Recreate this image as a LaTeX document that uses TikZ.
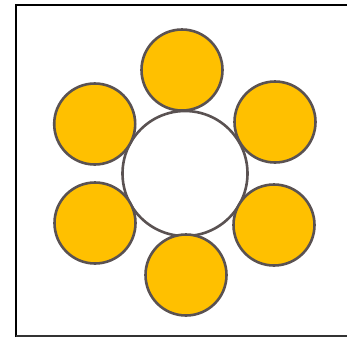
\documentclass[tikz,border=0pt]{standalone}
\definecolor{petal}{HTML}{FFC000}
\definecolor{rim}{HTML}{5A5252}
\begin{document}
\begin{tikzpicture}[x=1pt,y=-1pt,
  petalnode/.style={circle,draw=rim,fill=petal,line width=2.6pt,inner sep=0pt,minimum size=81pt},
  hubnode/.style={circle,draw=rim,fill=white,line width=2.6pt,inner sep=0pt,minimum size=125pt}]
\useasboundingbox (0,0) rectangle (347,338);
\fill[white] (0,0) rectangle (347,338);
\draw[line width=2.6pt] (16,337) -- (16,5) -- (349,5);
\draw[line width=1.8pt,black!80] (16,336) -- (349,336);
\node[hubnode] (hub) at (185,173.5) {};
\node[petalnode] (p1) at (182,70) {};
\node[petalnode] (p2) at (275,122) {};
\node[petalnode] (p3) at (274,225) {};
\node[petalnode] (p4) at (186,275) {};
\node[petalnode] (p5) at (95,223) {};
\node[petalnode] (p6) at (94.7,124) {};
\end{tikzpicture}
\end{document}
